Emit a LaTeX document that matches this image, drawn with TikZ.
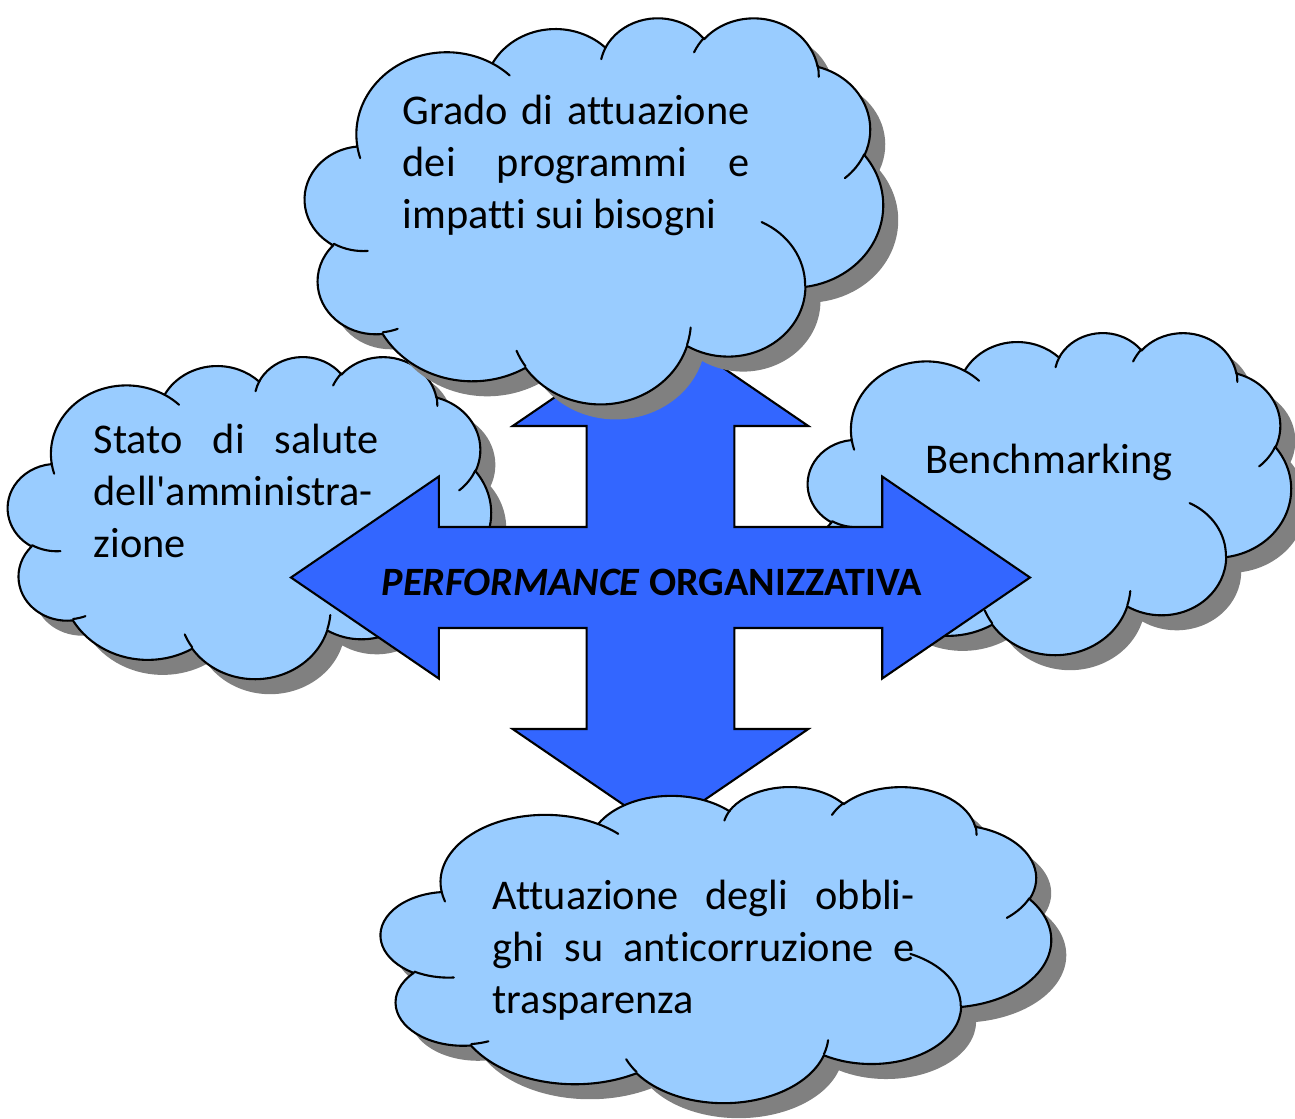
\documentclass[tikz,border=0pt]{standalone}
\usepackage{fontspec}
\setmainfont{Carlito}[Ligatures=NoCommon]
\usepackage{tikz}
\usetikzlibrary{positioning}
\definecolor{cloudblue}{HTML}{99CCFF}
\definecolor{arrowblue}{HTML}{3366FF}
\definecolor{shadegrey}{HTML}{808080}
\tolerance=10000 \hbadness=10000
\tikzset{
  cloudbody/.style ={fill=cloudblue, draw=black, line width=0.6pt, line join=round},
  cloudshade/.style={fill=shadegrey},
  crease/.style    ={draw=black, line width=0.6pt, line cap=round},
  quadarrow/.style ={fill=arrowblue, draw=black, line width=0.6pt},
  cloudtext/.style ={inner sep=0pt, align=justify, anchor=base west,
                     font=\fontsize{12.1pt}{14.86pt}\selectfont},
  perftext/.style  ={inner sep=0pt, anchor=base,
                     font=\bfseries\fontsize{11.5pt}{13pt}\selectfont},
}
% one lobe of the cloud: x radius, y radius, start angle, sweep
\newcommand{\lobe}[4]{%
  \pgfextra{%
    \pgfmathparse{atan2(#1*sin(#3),#2*cos(#3))}\xdef\lobeS{\pgfmathresult}%
    \pgfmathparse{atan2(#1*sin(#3+#4),#2*cos(#3+#4))}\xdef\lobeE{\pgfmathresult}%
    \pgfmathparse{\lobeS+mod(\lobeE-\lobeS+720,360)}\xdef\lobeE{\pgfmathresult}}%
  arc[start angle=\lobeS, end angle=\lobeE, x radius=#1, y radius=#2]}
% outline and inner creases on a 43.2 x 43.2 grid
\newcommand{\cloudoutline}{%
  (3.900,14.370) \lobe{6.753}{9.190}{-190.48748}{123.78053}
  \lobe{5.333}{7.267}{-144.10238}{89.94523}
  \lobe{4.365}{5.945}{-145.80792}{99.72302}
  \lobe{4.857}{6.595}{-130.98607}{117.24173}
  \lobe{5.333}{7.273}{-78.70888}{109.02692}
  \lobe{6.775}{9.220}{-46.26725}{130.26900}
  \lobe{5.785}{7.867}{0.62502}{114.03333}
  \lobe{6.752}{9.215}{22.45160}{115.17255}
  \lobe{7.720}{10.543}{66.24263}{75.71102}
  \lobe{4.360}{5.918}{-274.94208}{146.73557}
  \lobe{4.345}{5.945}{-246.82850}{152.51885} -- cycle}
\newcommand{\cloudcreases}{%
  (4.693,26.177) \lobe{4.345}{5.945}{86.742}{26.4295}
  (6.928,34.899) \lobe{4.360}{5.918}{73.61047}{11.44747}
  (16.478,39.090) \lobe{6.752}{9.215}{137.62415}{14.0811}
  (28.827,34.751) \lobe{6.752}{9.215}{6.45327}{15.99835}
  (34.129,22.954) \lobe{5.785}{7.867}{-70.29235}{70.91737}
  (41.798,15.354) \lobe{5.333}{7.273}{30.31803}{27.7515}
  (38.324,5.426) \lobe{4.857}{6.595}{-13.74433}{14.8589}
  (29.078,3.952) \lobe{4.857}{6.595}{-149.18145}{18.19537}
  (22.141,4.720) \lobe{4.365}{5.945}{-163.49427}{17.68635}
  (14.000,5.192) \lobe{6.753}{9.190}{-66.70695}{12.31935}
  (4.127,15.789) \lobe{6.753}{9.190}{157.65435}{11.85817}}
% cloud with its shadow in the box at (#1,#2), size #3 x #4
\newcommand{\drawcloud}[4]{%
  \begin{scope}[shift={(#1+15,#2+15)}, xscale=#3/43.2, yscale=#4/43.2]
    \fill[cloudshade] \cloudoutline;
  \end{scope}
  \begin{scope}[shift={(#1,#2)}, xscale=#3/43.2, yscale=#4/43.2]
    \filldraw[cloudbody] \cloudoutline;
    \path[crease] \cloudcreases;
  \end{scope}}

\begin{document}
\begin{tikzpicture}[x=0.2857pt, y=-0.2857pt]
\useasboundingbox (0,0) rectangle (1295,1118);

% side clouds, under the arrow
\drawcloud{8}{356}{483}{322}
\node[cloudtext, text width=81.4pt] (salute) at (93,453)
  {Stato di salute\linebreak dell\textquotesingle amministra-\\zione};
\drawcloud{808}{332}{483}{322}
\node[cloudtext] (bench) at (925,473) {Benchmarking};

% four-way arrow
\begin{scope}[shift={(291,325)}, xscale=73.9, yscale=50.5]
  \filldraw[quadarrow] (0,5) -- (2,3) -- (2,4) -- (4,4) -- (4,2) -- (3,2) -- (5,0)
    -- (7,2) -- (6,2) -- (6,4) -- (8,4) -- (8,3) -- (10,5) -- (8,7) -- (8,6)
    -- (6,6) -- (6,8) -- (7,8) -- (5,10) -- (3,8) -- (4,8) -- (4,6) -- (2,6)
    -- (2,7) -- cycle;
\end{scope}
\node[perftext] (perf) at (652,595) {\textit{PERFORMANCE} ORGANIZZATIVA};

% top and bottom clouds, over the arrow
\drawcloud{305}{17}{578}{386}
\node[cloudtext, text width=99.1pt] (grado) at (402,124)
  {Grado di attuazione\linebreak dei programmi e\linebreak impatti sui bisogni};
\drawcloud{381}{786}{670}{316}
\node[cloudtext, text width=120.6pt] (obblighi) at (492,909)
  {Attuazione degli obbli-\linebreak ghi su anticorruzione e\linebreak trasparenza};
\end{tikzpicture}
\end{document}
